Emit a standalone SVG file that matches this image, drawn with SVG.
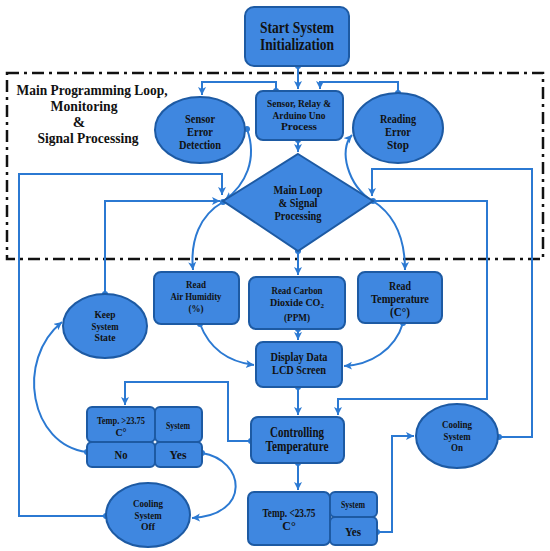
<svg xmlns="http://www.w3.org/2000/svg" width="550" height="551" viewBox="0 0 550 551">
<style>
.n{fill:#3f87e0;stroke:#1d5aa3;stroke-width:2}
.c{fill:none;stroke:#2b79d2;stroke-width:2}
text{font-family:'Liberation Serif','Times New Roman',serif;font-weight:bold;fill:#111;text-anchor:middle}
.t16{font-size:16px}
.t14{font-size:14px}
.t13{font-size:13px}
.t12{font-size:12px}
.t11{font-size:11px}
.t10{font-size:10px}
.title{font-size:15px}
</style>
<defs>
<marker id="ar" markerUnits="userSpaceOnUse" markerWidth="10" markerHeight="10" refX="8" refY="4" orient="auto">
<path d="M0,0 L8,4 L0,8 L2,4 z" fill="#2b79d2"/>
</marker>
<marker id="dt" markerUnits="userSpaceOnUse" markerWidth="8" markerHeight="8" refX="4" refY="4">
<circle cx="4" cy="4" r="3" fill="#2b79d2"/>
</marker>
</defs>
<rect width="550" height="551" fill="#fff"/>
<rect x="7" y="73" width="536" height="186" fill="none" stroke="#111" stroke-width="2.5" stroke-dasharray="12 5 3 5"/>
<g id="title">
<text class="title" x="92" y="95" textLength="151" lengthAdjust="spacingAndGlyphs">Main Programming Loop,</text>
<text class="title" x="84" y="111" textLength="67" lengthAdjust="spacingAndGlyphs">Monitoring</text>
<text class="title" x="79" y="127">&amp;</text>
<text class="title" x="88" y="143" textLength="101" lengthAdjust="spacingAndGlyphs">Signal Processing</text>
</g>
<g id="connectors">
<path class="c" d="M298,66 L298,89" marker-start="url(#dt)" marker-end="url(#ar)"/>
<path class="c" d="M276,91 L276,82 L202,82 L202,95" marker-start="url(#dt)" marker-end="url(#ar)"/>
<path class="c" d="M398,93 L398,82 L320,82 L320,89" marker-start="url(#dt)" marker-end="url(#ar)"/>
<path class="c" d="M298,140 L298,152" marker-start="url(#dt)" marker-end="url(#ar)"/>
<path class="c" d="M247,129 C258,160 245,185 225,200" marker-start="url(#dt)" marker-end="url(#ar)"/>
<path class="c" d="M372,201 C348,185 338,150 352,135" marker-end="url(#ar)"/>
<path class="c" d="M106,516 L19,516 L19,174 L222,174 L222,195" marker-start="url(#dt)" marker-end="url(#ar)"/>
<path class="c" d="M105,294 L105,201 L220,201" marker-start="url(#dt)" marker-end="url(#ar)"/>
<path class="c" d="M223,202 C200,215 190,240 193,270" marker-start="url(#dt)" marker-end="url(#ar)"/>
<path class="c" d="M298,251 L298,275" marker-start="url(#dt)" marker-end="url(#ar)"/>
<path class="c" d="M373,201 C395,215 405,240 405,270" marker-end="url(#ar)"/>
<path class="c" d="M499,437 L532,437 L532,169 L372,169 L372,196" marker-start="url(#dt)" marker-end="url(#ar)"/>
<path class="c" d="M373,201 L487,201 L487,399 L338,399 L338,415" marker-start="url(#dt)" marker-end="url(#ar)"/>
<path class="c" d="M200,324 C210,350 230,362 254,365" marker-start="url(#dt)" marker-end="url(#ar)"/>
<path class="c" d="M298,329 L298,340" marker-start="url(#dt)" marker-end="url(#ar)"/>
<path class="c" d="M403,323 C395,350 370,365 344,366" marker-start="url(#dt)" marker-end="url(#ar)"/>
<path class="c" d="M298,387 L298,415" marker-start="url(#dt)" marker-end="url(#ar)"/>
<path class="c" d="M251,441 L228,441 L228,382 L125,382 L125,405" marker-start="url(#dt)" marker-end="url(#ar)"/>
<path class="c" d="M87,452 C30,445 15,360 62,322" marker-start="url(#dt)" marker-end="url(#ar)"/>
<path class="c" d="M202,453 C245,460 252,515 192,518" marker-start="url(#dt)" marker-end="url(#ar)"/>
<path class="c" d="M298,463 L298,490" marker-start="url(#dt)" marker-end="url(#ar)"/>
<path class="c" d="M377,532 L392,532 L392,436 L414,436" marker-start="url(#dt)" marker-end="url(#ar)"/>
</g>
<g id="start">
<rect class="n" x="245" y="7" width="104" height="59" rx="9"/>
<text class="t16" x="297" y="33" textLength="74" lengthAdjust="spacingAndGlyphs">Start System</text>
<text class="t16" x="297" y="50" textLength="74" lengthAdjust="spacingAndGlyphs">Initialization</text>
</g>
<g id="sensor-relay">
<rect class="n" x="256" y="91" width="87" height="49" rx="7"/>
<text class="t11" x="299" y="107" textLength="64" lengthAdjust="spacingAndGlyphs">Sensor, Relay &amp;</text>
<text class="t11" x="299" y="119" textLength="53" lengthAdjust="spacingAndGlyphs">Arduino Uno</text>
<text class="t11" x="299" y="130" textLength="36" lengthAdjust="spacingAndGlyphs">Process</text>
</g>
<g id="sensor-error">
<ellipse class="n" cx="200" cy="130" rx="45" ry="33"/>
<text class="t12" x="200" y="123" textLength="30" lengthAdjust="spacingAndGlyphs">Sensor</text>
<text class="t12" x="200" y="136" textLength="26" lengthAdjust="spacingAndGlyphs">Error</text>
<text class="t12" x="200" y="149" textLength="42" lengthAdjust="spacingAndGlyphs">Detection</text>
</g>
<g id="reading-error">
<ellipse class="n" cx="398" cy="128" rx="45" ry="35"/>
<text class="t12" x="398" y="123" textLength="36" lengthAdjust="spacingAndGlyphs">Reading</text>
<text class="t12" x="398" y="136" textLength="26" lengthAdjust="spacingAndGlyphs">Error</text>
<text class="t12" x="398" y="149" textLength="22" lengthAdjust="spacingAndGlyphs">Stop</text>
</g>
<g id="main-loop">
<path class="n" d="M298,154 L373,201 L298,251 L223,201 Z"/>
<text class="t12" x="298" y="194" textLength="49" lengthAdjust="spacingAndGlyphs">Main Loop</text>
<text class="t12" x="298" y="207" textLength="39" lengthAdjust="spacingAndGlyphs">&amp; Signal</text>
<text class="t12" x="298" y="220" textLength="47" lengthAdjust="spacingAndGlyphs">Processing</text>
</g>
<g id="air-humidity">
<rect class="n" x="154" y="272" width="85" height="52" rx="7"/>
<text class="t11" x="196" y="288" textLength="20" lengthAdjust="spacingAndGlyphs">Read</text>
<text class="t11" x="196" y="300" textLength="51" lengthAdjust="spacingAndGlyphs">Air Humidity</text>
<text class="t11" x="196" y="312" textLength="15" lengthAdjust="spacingAndGlyphs">(%)</text>
</g>
<g id="carbon">
<rect class="n" x="249" y="277" width="96" height="52" rx="7"/>
<text class="t11" x="297" y="294" textLength="51" lengthAdjust="spacingAndGlyphs">Read Carbon</text>
<text class="t10" x="297" y="306">Dioxide CO<tspan font-size="7" dy="2">2</tspan></text>
<text class="t11" x="297" y="321" textLength="26" lengthAdjust="spacingAndGlyphs">(PPM)</text>
</g>
<g id="temperature">
<rect class="n" x="358" y="272" width="84" height="51" rx="7"/>
<text class="t12" x="400" y="290" textLength="22" lengthAdjust="spacingAndGlyphs">Read</text>
<text class="t12" x="400" y="303" textLength="58" lengthAdjust="spacingAndGlyphs">Temperature</text>
<text class="t12" x="400" y="316" textLength="20" lengthAdjust="spacingAndGlyphs">(C°)</text>
</g>
<g id="display">
<rect class="n" x="256" y="342" width="86" height="45" rx="7"/>
<text class="t12" x="299" y="361" textLength="57" lengthAdjust="spacingAndGlyphs">Display Data</text>
<text class="t12" x="299" y="374" textLength="54" lengthAdjust="spacingAndGlyphs">LCD Screen</text>
</g>
<g id="keep-state">
<ellipse class="n" cx="105" cy="326" rx="42" ry="32"/>
<text class="t11" x="105" y="318" textLength="21" lengthAdjust="spacingAndGlyphs">Keep</text>
<text class="t11" x="105" y="330" textLength="27" lengthAdjust="spacingAndGlyphs">System</text>
<text class="t11" x="105" y="341" textLength="21" lengthAdjust="spacingAndGlyphs">State</text>
</g>
<g id="controlling">
<rect class="n" x="251" y="417" width="93" height="46" rx="7"/>
<text class="t14" x="297" y="437" textLength="54" lengthAdjust="spacingAndGlyphs">Controlling</text>
<text class="t14" x="297" y="451" textLength="63" lengthAdjust="spacingAndGlyphs">Temperature</text>
</g>
<g id="temp-high">
<rect class="n" x="87" y="407" width="68" height="35" rx="5"/>
<rect class="n" x="155" y="407" width="47" height="35" rx="5"/>
<rect class="n" x="87" y="442" width="68" height="25" rx="5"/>
<rect class="n" x="155" y="442" width="47" height="25" rx="5"/>
<text class="t10" x="121" y="424" textLength="48" lengthAdjust="spacingAndGlyphs">Temp. &gt;23.75</text>
<text class="t10" x="121" y="436">C°</text>
<text class="t10" x="178" y="429" textLength="24" lengthAdjust="spacingAndGlyphs">System</text>
<text class="t12" x="121" y="459" textLength="13" lengthAdjust="spacingAndGlyphs">No</text>
<text class="t12" x="178" y="459" textLength="17" lengthAdjust="spacingAndGlyphs">Yes</text>
</g>
<g id="cooling-off">
<ellipse class="n" cx="148" cy="515" rx="42" ry="32"/>
<text class="t11" x="148" y="507" textLength="30" lengthAdjust="spacingAndGlyphs">Cooling</text>
<text class="t11" x="148" y="519" textLength="27" lengthAdjust="spacingAndGlyphs">System</text>
<text class="t11" x="148" y="530" textLength="14" lengthAdjust="spacingAndGlyphs">Off</text>
</g>
<g id="temp-low">
<rect class="n" x="248" y="492" width="82" height="53" rx="6"/>
<rect class="n" x="330" y="492" width="47" height="25" rx="5"/>
<rect class="n" x="330" y="517" width="47" height="28" rx="5"/>
<text class="t12" x="289" y="517" textLength="53" lengthAdjust="spacingAndGlyphs">Temp. &lt;23.75</text>
<text class="t12" x="289" y="530">C°</text>
<text class="t10" x="353" y="508" textLength="24" lengthAdjust="spacingAndGlyphs">System</text>
<text class="t12" x="353" y="536" textLength="16" lengthAdjust="spacingAndGlyphs">Yes</text>
</g>
<g id="cooling-on">
<ellipse class="n" cx="457" cy="436" rx="41" ry="32"/>
<text class="t11" x="457" y="428" textLength="30" lengthAdjust="spacingAndGlyphs">Cooling</text>
<text class="t11" x="457" y="440" textLength="27" lengthAdjust="spacingAndGlyphs">System</text>
<text class="t11" x="457" y="451" textLength="12" lengthAdjust="spacingAndGlyphs">On</text>
</g>
</svg>
